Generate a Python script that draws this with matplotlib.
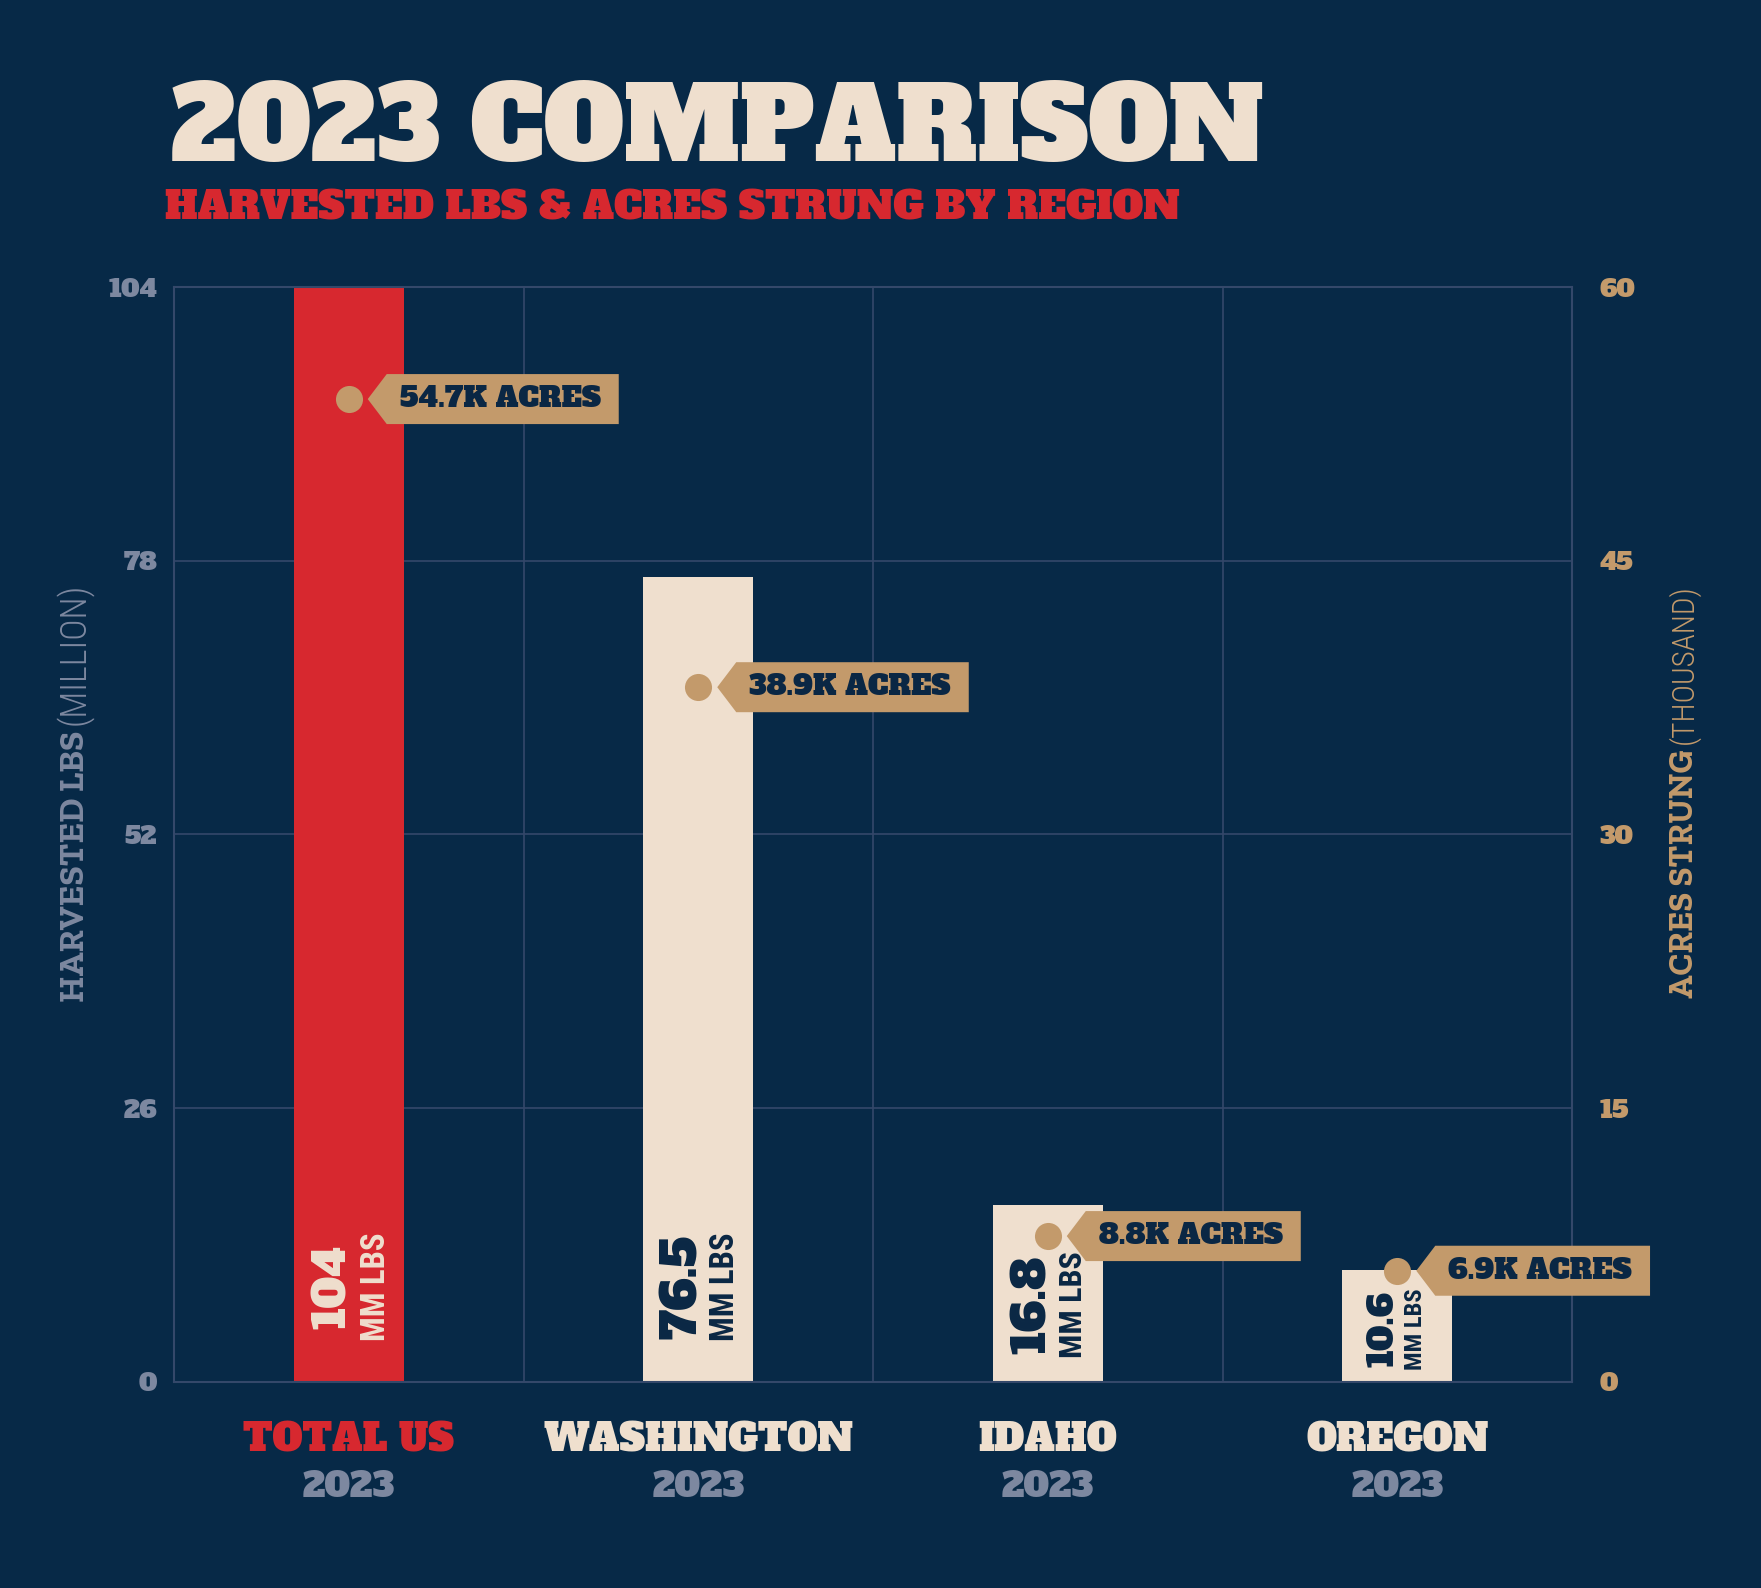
import numpy as np
import matplotlib
matplotlib.use("Agg")
from matplotlib import pyplot as plt
from matplotlib import transforms
from matplotlib.patches import Polygon

regions = ["TOTAL US", "WASHINGTON", "IDAHO", "OREGON"]
years = ["2023", "2023", "2023", "2023"]
harvested_mm_lbs = [104, 76.5, 16.8, 10.6]
acres_k = [54.7, 38.9, 8.8, 6.9]
left_ticks = [0, 26, 52, 78, 104]
right_ticks = [0, 15, 30, 45, 60]

BG = "#072947"
RED = "#D7282F"
CREAM = "#EFDFCE"
TAN = "#C39A6B"
GREY = "#7D88A0"
GRID = "#34486A"
NAVY = "#0A2744"
SLAB = "Alfa Slab One"
SLAB2 = "Zilla Slab"
COND = "Roboto Condensed"

# per-bar label layout (pixels)
num_len_px = [84, 104, 98, 76]
unit_len_px = [108, 108, 106, 81]
label_center_px = [95, 95, 77, 52]
num_dx_px = [-15, -14, -14, -13]
unit_dx_px = [27, 27, 25, 18]
DOT_DROP_PX = 15

fig = plt.figure(figsize=(17.61, 15.88), dpi=100, facecolor=BG)
ax = fig.add_axes([0.0988, 0.130, 0.7939, 0.689])
ax.set_facecolor(BG)
renderer = fig.canvas.get_renderer()


def fit(t, size_px, along="x"):
    # scale font so the text spans size_px on screen
    bb = t.get_window_extent(renderer)
    w = bb.width if along == "x" else bb.height
    t.set_fontsize(t.get_fontsize() * size_px / w)


x = np.arange(len(regions)) + 0.5
bar_colors = [RED] + [CREAM] * (len(regions) - 1)
ax.bar(x, harvested_mm_lbs, width=0.315, color=bar_colors, zorder=2)
ax.set_xlim(0, len(regions))
ax.set_ylim(0, 104)
ax.set_yticks(left_ticks)
ax.set_xticks(np.arange(1, len(regions)))
ax.tick_params(axis="x", length=0, labelbottom=False)
ax.tick_params(axis="y", length=0, pad=12, labelsize=18, labelcolor=GREY)
for lab in ax.get_yticklabels():
    lab.set_fontfamily(SLAB)
ax.grid(color=GRID, lw=1.2)
ax.set_axisbelow(True)
for s in ax.spines.values():
    s.set_color(GRID)
    s.set_linewidth(1.5)

ax2 = ax.twinx()
ax2.set_ylim(0, 60)
ax2.set_yticks(right_ticks)
ax2.tick_params(axis="y", length=0, pad=20, labelsize=18, labelcolor=TAN)
for lab in ax2.get_yticklabels():
    lab.set_fontfamily(SLAB)
for s in ax2.spines.values():
    s.set_visible(False)

drop = transforms.ScaledTranslation(0, -DOT_DROP_PX / 100, fig.dpi_scale_trans)
ax2.scatter(x, acres_k, s=380, color=TAN, zorder=6, linewidths=0, transform=ax2.transData + drop)

# bar value labels (rotated)
for i, v in enumerate(harvested_mm_lbs):
    tc = CREAM if i == 0 else NAVY
    t1 = ax.annotate(f"{v:g}", xy=(x[i], 0), xytext=(num_dx_px[i] * 0.72, label_center_px[i] * 0.72),
                     textcoords="offset points", rotation=90, rotation_mode="anchor",
                     ha="center", va="center", fontsize=30, family=SLAB, color=tc, zorder=5)
    fit(t1, num_len_px[i], "y")
    t2 = ax.annotate("MM LBS", xy=(x[i], 0), xytext=(unit_dx_px[i] * 0.72, label_center_px[i] * 0.72),
                     textcoords="offset points", rotation=90, rotation_mode="anchor",
                     ha="center", va="center", fontsize=18, fontweight="bold",
                     family=COND, color=tc, zorder=5)
    fit(t2, unit_len_px[i], "y")

# acre tags
tag_texts = []
for i, a in enumerate(acres_k):
    t = ax2.annotate(f"{a:g}K ACRES", xy=(x[i], a), xytext=((19 + 19 + 13) * 0.72, -DOT_DROP_PX * 0.72),
                     textcoords="offset points", ha="left", va="center",
                     fontsize=20, family=SLAB, color=NAVY, zorder=8)
    tag_texts.append(t)
fit(tag_texts[0], 201)
for t in tag_texts[1:]:
    t.set_fontsize(tag_texts[0].get_fontsize())

# category labels
xt = transforms.blended_transform_factory(ax.transData, fig.transFigure)
name_texts, year_texts = [], []
for i, r in enumerate(regions):
    name_texts.append(ax.text(x[i], 0.0925, r, transform=xt, ha="center", va="center", fontsize=28,
                              family=SLAB, color=RED if i == 0 else CREAM))
    year_texts.append(ax.text(x[i], 0.0630, years[i], transform=xt, ha="center", va="center",
                              fontsize=26, family=SLAB, color=GREY))
fit(name_texts[1], 310)
fit(year_texts[0], 92)
for t in name_texts:
    t.set_fontsize(name_texts[1].get_fontsize())
for t in year_texts:
    t.set_fontsize(year_texts[0].get_fontsize())

# titles
tt = fig.text(0.097, 0.8989, "2023 COMPARISON", fontsize=72, family=SLAB,
              color=CREAM, ha="left", va="baseline")
fit(tt, 1093)
st = fig.text(0.0937, 0.862, "HARVESTED LBS & ACRES STRUNG BY REGION", fontsize=30,
              family=SLAB, color=RED, ha="left", va="baseline")
fit(st, 1016)

# axis titles (two-part)
a1 = fig.text(0.0426, 0.5400, "HARVESTED LBS", rotation=90, rotation_mode="anchor", ha="right",
              va="center", fontsize=17, fontweight="bold", family=SLAB2, color=GREY)
fit(a1, 270, "y")
a2 = fig.text(0.0426, 0.5435, "(MILLION)", rotation=90, rotation_mode="anchor", ha="left",
              va="center", fontsize=17, fontweight="light", family=COND, color=GREY)
fit(a2, 142, "y")
b1 = fig.text(0.9563, 0.5280, "ACRES STRUNG", rotation=90, rotation_mode="anchor", ha="right",
              va="center", fontsize=17, fontweight="bold", family=SLAB2, color=TAN)
fit(b1, 248, "y")
b2 = fig.text(0.9563, 0.5315, "(THOUSAND)", rotation=90, rotation_mode="anchor", ha="left",
              va="center", fontsize=17, fontweight="light", family=COND, color=TAN)
fit(b2, 160, "y")

# build tag shapes around the texts
fig.canvas.draw()
inv = fig.transFigure.inverted()
for i, t in enumerate(tag_texts):
    bb = t.get_window_extent(renderer)
    px, py = ax2.transData.transform((x[i], acres_k[i]))
    py -= DOT_DROP_PX
    tip = px + 19
    body = tip + 19
    right = bb.x1 + 18
    h = 25
    verts = [(tip, py), (body, py + h), (right, py + h), (right, py - h), (body, py - h)]
    verts = inv.transform(verts)
    ax2.add_patch(Polygon(verts, closed=True, transform=fig.transFigure, facecolor=TAN,
                          edgecolor="none", zorder=7, clip_on=False))

fig.savefig("out.png", dpi=100, facecolor=BG)
